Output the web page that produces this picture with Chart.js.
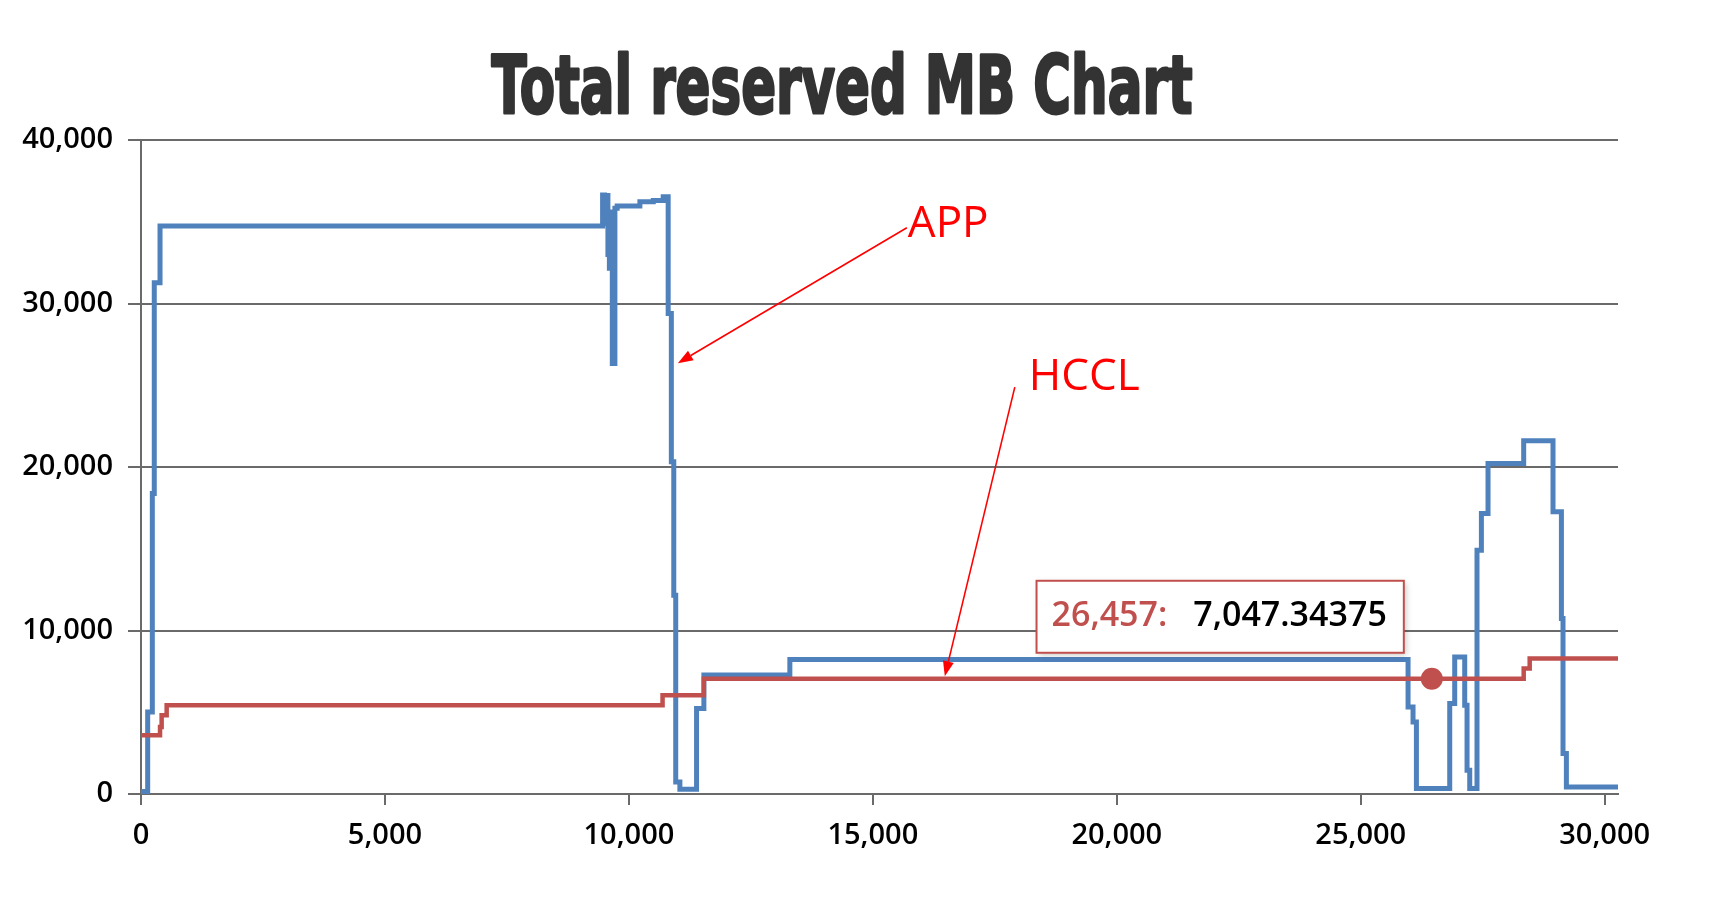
<!DOCTYPE html>
<html>
<head>
<meta charset="utf-8">
<title>Total reserved MB Chart</title>
<script src="https://cdn.jsdelivr.net/npm/chart.js@4.4.1/dist/chart.umd.min.js"></script>
<style>
  html, body { margin: 0; padding: 0; background: #fff; }
  #wrap { position: relative; width: 1721px; height: 912px; }
</style>
</head>
<body>
<div id="wrap"><canvas id="chart" width="1721" height="912"></canvas></div>
<script>
// APP (blue) step series
const APP_X = [0, 137, 232, 272, 390, 9461, 9500, 9530, 9570, 9600, 9630, 9660, 9713, 9760,
  10225, 10500, 10703, 10805, 10870, 10920, 10960, 11045, 11387, 11537, 13299,
  25970, 26072, 26141, 26824, 26926, 27131, 27179, 27234, 27383, 27473, 27609,
  28340, 28941, 29113, 29146, 29215, 30273];
const APP_Y = [150, 5018, 18380, 31268, 34737, 36634, 34900, 36600, 33000, 32150, 35600, 26335, 35820, 35960,
  36225, 36300, 36530, 29395, 20315, 12158, 735, 288, 5225, 7280, 8230,
  5324, 4406, 330, 5531, 8383, 5427, 1450, 330, 14912, 17157, 20217,
  21600, 17259, 10730, 2471, 430, 430];

// HCCL (red) step series
const HCCL_X = [0, 390, 423, 526, 10690, 11537, 26457, 28340, 28463, 30273];
const HCCL_Y = [3592, 4100, 4815, 5427, 6040, 7047.34375, 7047.34375, 7672, 8284, 8284];

// hovered point shown in the tooltip
const HOVER_X = 26457;

// axis ticks
const X_MAX = 30273;
const X_TICKS = [0, 5000, 10000, 15000, 20000, 25000, 30000];
const Y_MAX = 40000;
const Y_TICKS = [0, 10000, 20000, 30000, 40000];

const TITLE = 'Total reserved MB Chart';

// red hand-drawn notes: text anchor and arrow (from -> to), in data units
const NOTE_TEXT = ['APP', 'HCCL'];
const NOTE_X = [15717, 18197];
const NOTE_Y = [34082, 24702];
const ARROW_FROM_X = [15697, 17910];
const ARROW_FROM_Y = [34633, 24885];
const ARROW_TO_X = [11004, 16475];
const ARROW_TO_Y = [26352, 7202];

const BLUE = '#4f81bd';
const RED = '#c0504d';
const GRID = '#6a6a6a';
const TICK_FONT = { family: '"Open Sans", "Noto Sans", sans-serif', size: 29, weight: '600' };

const appData = APP_X.map((x, i) => ({ x, y: APP_Y[i] }));
const hcclData = HCCL_X.map((x, i) => ({ x, y: HCCL_Y[i] }));
const fmt = v => v.toLocaleString('en-US', { maximumFractionDigits: 5 });

const titlePlugin = {
  id: 'stretchTitle',
  afterDraw(chart) {
    const ctx = chart.ctx;
    ctx.save();
    ctx.font = 'bold 80px "DejaVu Sans", sans-serif';
    const w = ctx.measureText(TITLE).width;
    ctx.translate(842, 113);
    ctx.scale(701 / w, 1);
    ctx.fillStyle = '#333';
    ctx.strokeStyle = '#333';
    ctx.lineWidth = 3;
    ctx.lineJoin = 'round';
    ctx.textAlign = 'center';
    ctx.textBaseline = 'alphabetic';
    ctx.fillText(TITLE, 0, 0);
    ctx.strokeText(TITLE, 0, 0);
    ctx.restore();
  }
};

const notesPlugin = {
  id: 'notes',
  afterDraw(chart) {
    const ctx = chart.ctx;
    const xs = chart.scales.x, ys = chart.scales.y;
    ctx.save();
    ctx.strokeStyle = '#ff0000';
    ctx.fillStyle = '#ff0000';
    ctx.lineWidth = 1.6;
    NOTE_TEXT.forEach((t, i) => {
      const x1 = xs.getPixelForValue(ARROW_FROM_X[i]), y1 = ys.getPixelForValue(ARROW_FROM_Y[i]);
      const x2 = xs.getPixelForValue(ARROW_TO_X[i]), y2 = ys.getPixelForValue(ARROW_TO_Y[i]);
      const a = Math.atan2(y2 - y1, x2 - x1);
      const len = 15, hw = 5.5;
      const bx = x2 - len * Math.cos(a), by = y2 - len * Math.sin(a);
      ctx.beginPath();
      ctx.moveTo(x1, y1);
      ctx.lineTo(bx, by);
      ctx.stroke();
      ctx.beginPath();
      ctx.moveTo(x2, y2);
      ctx.lineTo(bx + hw * Math.sin(a), by - hw * Math.cos(a));
      ctx.lineTo(bx - hw * Math.sin(a), by + hw * Math.cos(a));
      ctx.closePath();
      ctx.fill();
      ctx.font = '44px "Open Sans", "Noto Sans", sans-serif';
      ctx.textBaseline = 'alphabetic';
      ctx.textAlign = 'left';
      ctx.fillText(t, xs.getPixelForValue(NOTE_X[i]), ys.getPixelForValue(NOTE_Y[i]));
    });
    ctx.restore();
  }
};

const tipPlugin = {
  id: 'hoverTip',
  afterDraw(chart) {
    const idx = HCCL_X.indexOf(HOVER_X);
    const ctx = chart.ctx;
    const px = chart.scales.x.getPixelForValue(HCCL_X[idx]);
    const py = chart.scales.y.getPixelForValue(HCCL_Y[idx]);
    const label = fmt(HCCL_X[idx]) + ':';
    const value = fmt(HCCL_Y[idx]);
    ctx.save();
    ctx.font = '600 34px "Open Sans", "Noto Sans", sans-serif';
    const lw = ctx.measureText(label).width;
    const vw = ctx.measureText(value).width;
    const w = 15 + lw + 26 + vw + 17, h = 72;
    const right = px - 28, bottom = py - 26;
    const left = right - w, top = bottom - h;
    ctx.shadowColor = 'rgba(0,0,0,0.22)';
    ctx.shadowBlur = 6;
    ctx.shadowOffsetX = 2;
    ctx.shadowOffsetY = 2;
    ctx.fillStyle = '#fff';
    ctx.fillRect(left, top, w, h);
    ctx.shadowColor = 'transparent';
    ctx.strokeStyle = RED;
    ctx.lineWidth = 2;
    ctx.strokeRect(left, top, w, h);
    ctx.textBaseline = 'middle';
    ctx.textAlign = 'left';
    ctx.fillStyle = RED;
    ctx.fillText(label, left + 15, top + h / 2);
    ctx.fillStyle = '#000';
    ctx.fillText(value, left + 15 + lw + 26, top + h / 2);
    ctx.restore();
  }
};

new Chart(document.getElementById('chart'), {
  type: 'line',
  data: {
    datasets: [
      {
        label: 'HCCL',
        data: hcclData,
        borderColor: RED,
        backgroundColor: RED,
        borderWidth: 4.5,
        stepped: true,
        fill: false,
        borderJoinStyle: 'miter',
        pointRadius: ctx => (ctx.raw && ctx.raw.x === HOVER_X ? 11 : 0),
        pointBorderWidth: 0,
        pointBackgroundColor: RED
      },
      {
        label: 'APP',
        data: appData,
        borderColor: BLUE,
        backgroundColor: BLUE,
        borderWidth: 5,
        stepped: true,
        fill: false,
        borderJoinStyle: 'miter',
        pointRadius: 0
      }
    ]
  },
  options: {
    responsive: false,
    animation: false,
    devicePixelRatio: 1,
    layout: { padding: { left: 0, top: 140, right: 103, bottom: 38 } },
    plugins: {
      legend: { display: false },
      tooltip: { enabled: false },
      title: { display: false }
    },
    scales: {
      x: {
        type: 'linear',
        min: 0,
        max: X_MAX,
        afterFit: s => { s.height = 80; },
        afterBuildTicks: s => { s.ticks = X_TICKS.map(v => ({ value: v })); },
        ticks: {
          maxRotation: 0,
          autoSkip: false,
          padding: 13,
          color: '#000',
          font: TICK_FONT,
          callback: v => fmt(v)
        },
        grid: { drawOnChartArea: false, drawTicks: true, tickLength: 11, color: GRID, lineWidth: 2 },
        border: { display: true, color: GRID, width: 2 }
      },
      y: {
        min: 0,
        max: Y_MAX,
        afterFit: s => { s.width = 141; },
        afterBuildTicks: s => { s.ticks = Y_TICKS.map(v => ({ value: v })); },
        ticks: {
          padding: 15,
          color: '#000',
          font: TICK_FONT,
          callback: v => fmt(v)
        },
        grid: { color: GRID, lineWidth: 2, tickLength: 13 },
        border: { display: true, color: GRID, width: 2 }
      }
    }
  },
  plugins: [titlePlugin, notesPlugin, tipPlugin]
});
</script>
</body>
</html>
